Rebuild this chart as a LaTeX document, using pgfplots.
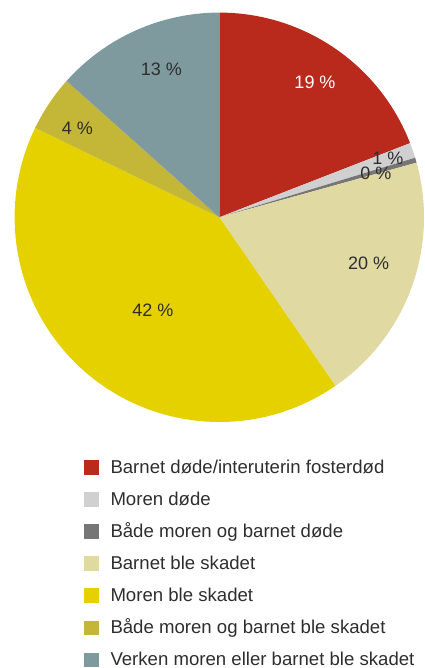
\documentclass[border=0pt]{standalone}
\usepackage{pgfplots}
\pgfplotsset{compat=1.18}
\usepackage{fontspec}
\setmainfont{Liberation Sans}
\definecolor{cRed}{HTML}{BA2A1C}
\definecolor{cLGray}{HTML}{D0D0D0}
\definecolor{cDGray}{HTML}{767676}
\definecolor{cBeige}{HTML}{E0D9A2}
\definecolor{cYellow}{HTML}{E5D000}
\definecolor{cOlive}{HTML}{C4B637}
\definecolor{cBlue}{HTML}{7F9A9E}
\definecolor{txt}{HTML}{2E2E2E}
\def\cx{219.3}
\def\cy{450.7}
\def\R{204.7}
\gdef\cum{90}
\newcommand{\slice}[2]{%
  \pgfmathsetmacro{\sA}{\cum}%
  \pgfmathsetmacro{\sB}{\cum-3.6*#1}%
  \edef\doslice{\noexpand\fill[#2] (axis cs:\cx,\cy) -- ++(\sA:\R pt) arc[start angle=\sA, end angle=\sB, radius=\R pt] -- cycle;}%
  \doslice
  \xdef\cum{\sB}%
}
\begin{document}
\begin{tikzpicture}
\begin{axis}[
  at={(0,0)}, anchor=south west,
  hide axis, x=1pt, y=1pt, xmin=0, xmax=424, ymin=0, ymax=668,
  scale only axis, clip=false,
  legend cell align=left,
  legend image code/.code={\fill[#1, draw=none] (0pt,-7.4pt) rectangle (14.6pt,7.2pt);},
  legend style={at={(axis cs:84.3,208.7)}, anchor=north west, draw=none, fill=none,
    inner sep=0pt, outer sep=0pt, font=\fontsize{18.6}{22}\selectfont, text=txt,
    row sep=16.1pt,
    nodes={inner sep=0pt, outer sep=0pt, text height=14pt, text depth=2pt},
    /tikz/every odd column/.style={column sep=11.6pt}},
]
\path (axis cs:0,0) rectangle (axis cs:424,668);
\slice{19.1}{cRed}
\slice{1.2}{cLGray}
\slice{0.4}{cDGray}
\slice{19.7}{cBeige}
\slice{41.8}{cYellow}
\slice{4.4}{cOlive}
\slice{13.4}{cBlue}
\addlegendimage{fill=cRed}
\addlegendentry{Barnet døde/interuterin fosterdød}
\addlegendimage{fill=cLGray}
\addlegendentry{Moren døde}
\addlegendimage{fill=cDGray}
\addlegendentry{Både moren og barnet døde}
\addlegendimage{fill=cBeige}
\addlegendentry{Barnet ble skadet}
\addlegendimage{fill=cYellow}
\addlegendentry{Moren ble skadet}
\addlegendimage{fill=cOlive}
\addlegendentry{Både moren og barnet ble skadet}
\addlegendimage{fill=cBlue}
\addlegendentry{Verken moren eller barnet ble skadet}
\begin{scope}[every node/.style={font=\fontsize{18}{20}\selectfont, inner sep=0pt, text=txt}]
\node[text=white] at (axis cs:315,585.3) {19 \%};
\node at (axis cs:388,509.3) {1 \%};
\node at (axis cs:376,495) {0 \%};
\node at (axis cs:368.7,404.2) {20 \%};
\node at (axis cs:153,358) {42 \%};
\node at (axis cs:77.5,539.7) {4 \%};
\node at (axis cs:161.5,599) {13 \%};
\end{scope}
\end{axis}
\pgfresetboundingbox
\path (0,0) rectangle (424pt,668pt);
\end{tikzpicture}
\end{document}
